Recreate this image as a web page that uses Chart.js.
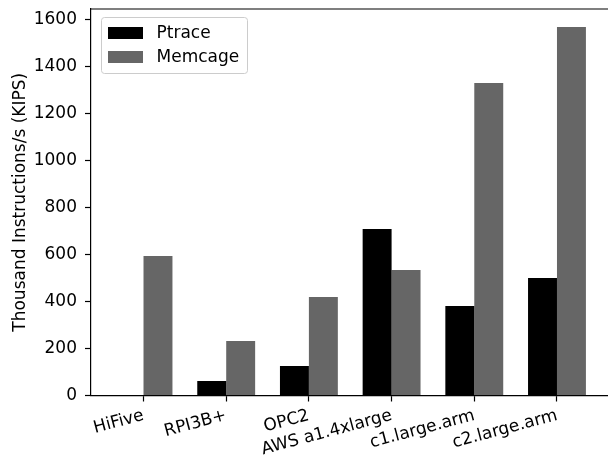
<!DOCTYPE html>
<html><head><meta charset="utf-8">
<script src="https://cdn.jsdelivr.net/npm/chart.js@4.4.1/dist/chart.umd.min.js"></script>
<style>html,body{margin:0;padding:0;background:#fff;}#wrap{width:608px;height:459px;}</style>
</head><body><div id="wrap"><canvas id="c" width="608" height="459"></canvas></div>
<script>
// ---- data ----
const categories = ['HiFive', 'RPI3B+', 'OPC2', 'AWS a1.4xlarge', 'c1.large.arm', 'c2.large.arm'];
const seriesNames = ['Ptrace', 'Memcage'];
const ptrace = [0, 62, 125, 708, 380, 499];
const memcage = [593, 232, 419, 533, 1328, 1566];
const yTicks = [0, 200, 400, 600, 800, 1000, 1200, 1400, 1600];
const yMax = 1643;
const xMin = -0.635, xMax = 5.617;
const yLabel = 'Thousand Instructions/s (KIPS)';

Chart.defaults.font.family = "'DejaVu Sans', sans-serif";
Chart.defaults.font.size = 17;
Chart.defaults.color = '#000';

const frame = {
  id: 'frame',
  afterDatasetsDraw(chart) {
    const {ctx, chartArea: a} = chart;
    ctx.save();
    ctx.strokeStyle = '#000';
    ctx.lineWidth = 1.2;
    ctx.beginPath();
    ctx.moveTo(a.left, a.top);
    ctx.lineTo(a.right, a.top);
    ctx.stroke();
    ctx.restore();
  }
};

const legendBox = {
  id: 'legendBox',
  afterDraw(chart) {
    const {ctx, chartArea: a} = chart;
    const x0 = a.left + 10.5, y0 = a.top + 8.5, w = 146, h = 56;
    ctx.save();
    ctx.beginPath();
    ctx.roundRect(x0, y0, w, h, 3);
    ctx.fillStyle = 'rgba(255,255,255,0.8)';
    ctx.fill();
    ctx.strokeStyle = '#cccccc';
    ctx.lineWidth = 1;
    ctx.stroke();
    chart.data.datasets.forEach((ds, i) => {
      const ry = y0 + 9.5 + i * 24;
      ctx.fillStyle = ds.backgroundColor;
      ctx.fillRect(x0 + 6.5, ry, 35, 12);
      ctx.fillStyle = '#000';
      ctx.font = "17px 'DejaVu Sans', sans-serif";
      ctx.textBaseline = 'middle';
      ctx.textAlign = 'left';
      ctx.fillText(ds.label, x0 + 55, ry + 6.5);
    });
    ctx.restore();
  }
};

function zeroPad(s) { s.paddingTop = 0; s.paddingBottom = 0; s.paddingLeft = 0; s.paddingRight = 0; }

new Chart(document.getElementById('c'), {
  type: 'bar',
  data: {
    datasets: [
      {label: seriesNames[0], data: categories.map((c, i) => ({x: i, y: ptrace[i]})),
       backgroundColor: '#000000', categoryPercentage: 0.7, barPercentage: 1.0, borderWidth: 0},
      {label: seriesNames[1], data: categories.map((c, i) => ({x: i, y: memcage[i]})),
       backgroundColor: '#666666', categoryPercentage: 0.7, barPercentage: 1.0, borderWidth: 0}
    ]
  },
  options: {
    responsive: false,
    animation: false,
    events: [],
    layout: {padding: {top: 9, right: 0, left: 0, bottom: 0}},
    plugins: {legend: {display: false}, tooltip: {enabled: false}},
    scales: {
      x: {
        type: 'linear', min: xMin, max: xMax, offset: false,
        grid: {offset: false, drawOnChartArea: false, drawTicks: true, tickLength: 6, color: '#000', tickColor: '#000', tickWidth: 1.2},
        border: {display: true, color: '#000', width: 1.2},
        afterBuildTicks(s) { s.ticks = categories.map((c, i) => ({value: i})); },
        ticks: {autoSkip: false, minRotation: 15, maxRotation: 15, padding: 4,
                callback: (v) => categories[v]},
        afterFit(s) { s.height = 63.5; zeroPad(s); }
      },
      y: {
        min: 0, max: yMax,
        grid: {drawOnChartArea: false, tickLength: 6, color: '#000', tickColor: '#000', tickWidth: 1.2},
        border: {display: true, color: '#000', width: 1.2},
        afterBuildTicks(s) { s.ticks = yTicks.map(v => ({value: v})); },
        ticks: {padding: 8, callback: (v) => String(v)},
        title: {display: true, text: yLabel, padding: {top: 10, bottom: 0}},
        afterFit(s) { s.width = 91; zeroPad(s); }
      }
    }
  },
  plugins: [frame, legendBox]
});
</script></body></html>
